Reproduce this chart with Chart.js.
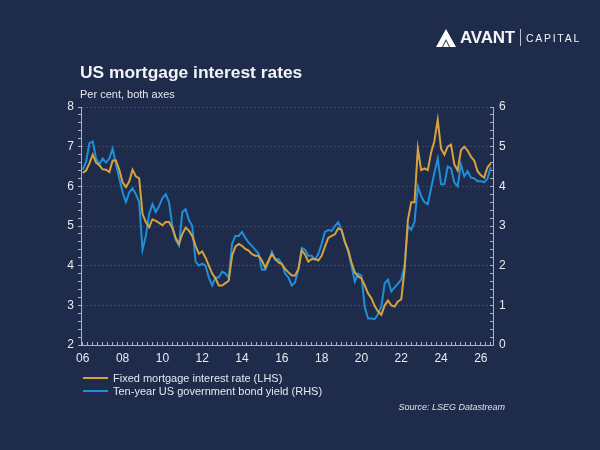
<!DOCTYPE html>
<html lang="en">
<head>
    <meta charset="UTF-8">
    <title>US mortgage interest rates</title>
    <script src="https://cdn.jsdelivr.net/npm/chart.js"></script>
    <style>
        body {
            margin: 0;
            background: #1e2b4a;
            font-family: "Liberation Sans", Arial, sans-serif;
            color: #f2f4f7;
        }
        #page {
            position: relative;
            width: 600px;
            height: 450px;
            overflow: hidden;
        }
        #chart-box {
            position: absolute;
            left: 0;
            top: 0;
            width: 600px;
            height: 450px;
        }
        canvas { display: block; }
        .abs { position: absolute; white-space: nowrap; }
        #logo { left: 436px; top: 28px; height: 19px; display: flex; align-items: center; }
        #logo .avant { font-size: 17px; font-weight: bold; letter-spacing: -0.2px; margin-left: 4px; }
        #logo .bar { width: 1px; height: 17px; background: #b8c0cf; margin: 0 5px 0 5px; }
        #logo .capital { font-size: 10.5px; letter-spacing: 1.7px; }
        #title { left: 80px; top: 64px; font-size: 17.4px; font-weight: bold; line-height: 17px; }
        #subtitle { left: 80px; top: 88px; font-size: 11px; line-height: 12px; color: #e4e8ef; }
        .legend-row { left: 83px; font-size: 11px; line-height: 12px; display: flex; align-items: center; color: #e4e8ef; }
        .legend-row .swatch { width: 25px; height: 2px; margin-right: 5px; }
        #source { right: 95px; top: 402px; font-size: 9px; font-style: italic; line-height: 10px; color: #dfe3ea; }
    </style>
</head>
<body>
<div id="page">
    <div id="chart-box"><canvas id="myChart" width="600" height="450"></canvas></div>

    <div id="logo" class="abs">
        <svg width="20" height="18" viewBox="0 0 20 18">
            <polygon points="10,0 20,18 14,18 10,10 6,18 0,18" fill="#ffffff"/>
            <polygon points="10,12 13,18 7,18" fill="#ffffff"/>
        </svg>
        <span class="avant">AVANT</span>
        <span class="bar"></span>
        <span class="capital">CAPITAL</span>
    </div>

    <div id="title" class="abs">US mortgage interest rates</div>
    <div id="subtitle" class="abs">Per cent, both axes</div>

    <div class="abs legend-row" style="top: 372px;">
        <span class="swatch" style="background:#d6a23e;"></span>Fixed mortgage interest rate (LHS)
    </div>
    <div class="abs legend-row" style="top: 385px;">
        <span class="swatch" style="background:#1f8fd8;"></span>Ten-year US government bond yield (RHS)
    </div>
    <div id="source" class="abs">Source: LSEG Datastream</div>
</div>

<script>
    const months = [
        '2006-01','2006-03','2006-05','2006-07','2006-09','2006-11',
        '2007-01','2007-03','2007-05','2007-07','2007-09','2007-11',
        '2008-01','2008-03','2008-05','2008-07','2008-09','2008-11',
        '2009-01','2009-03','2009-05','2009-07','2009-09','2009-11',
        '2010-01','2010-03','2010-05','2010-07','2010-09','2010-11',
        '2011-01','2011-03','2011-05','2011-07','2011-09','2011-11',
        '2012-01','2012-03','2012-05','2012-07','2012-09','2012-11',
        '2013-01','2013-03','2013-05','2013-07','2013-09','2013-11',
        '2014-01','2014-03','2014-05','2014-07','2014-09','2014-11',
        '2015-01','2015-03','2015-05','2015-07','2015-09','2015-11',
        '2016-01','2016-03','2016-05','2016-07','2016-09','2016-11',
        '2017-01','2017-03','2017-05','2017-07','2017-09','2017-11',
        '2018-01','2018-03','2018-05','2018-07','2018-09','2018-11',
        '2019-01','2019-03','2019-05','2019-07','2019-09','2019-11',
        '2020-01','2020-03','2020-05','2020-07','2020-09','2020-11',
        '2021-01','2021-03','2021-05','2021-07','2021-09','2021-11',
        '2022-01','2022-03','2022-05','2022-07','2022-09','2022-11',
        '2023-01','2023-03','2023-05','2023-07','2023-09','2023-11',
        '2024-01','2024-03','2024-05','2024-07','2024-09','2024-11',
        '2025-01','2025-03','2025-05','2025-07','2025-09','2025-11',
        '2026-01','2026-03','2026-05','2026-07'
    ];

    // Fixed mortgage interest rate, per cent (LHS)
    const mortgageRate = [
        6.34, 6.40, 6.58, 6.80, 6.60, 6.53,
        6.43, 6.42, 6.36, 6.65, 6.65, 6.42,
        6.10, 5.98, 6.12, 6.42, 6.25, 6.20,
        5.30, 5.10, 4.97, 5.17, 5.13, 5.08,
        5.02, 5.10, 5.10, 4.95, 4.70, 4.55,
        4.80, 4.96, 4.88, 4.75, 4.50, 4.30,
        4.36, 4.20, 4.00, 3.80, 3.68, 3.50,
        3.50, 3.56, 3.62, 4.25, 4.48, 4.55,
        4.50, 4.42, 4.38, 4.29, 4.25, 4.25,
        4.13, 3.95, 4.13, 4.29, 4.17, 4.08,
        4.04, 3.92, 3.83, 3.75, 3.75, 3.92,
        4.38, 4.28, 4.10, 4.17, 4.17, 4.13,
        4.25, 4.48, 4.70, 4.75, 4.79, 4.94,
        4.90, 4.60, 4.40, 4.08, 3.83, 3.73,
        3.68, 3.50, 3.30, 3.18, 2.98, 2.85,
        2.76, 3.00, 3.12, 3.00, 2.97, 3.10,
        3.15, 3.90, 5.15, 5.60, 5.60, 6.95,
        6.41, 6.45, 6.41, 6.85, 7.15, 7.68,
        6.95, 6.80, 7.00, 7.05, 6.55, 6.40,
        6.91, 7.00, 6.90, 6.75, 6.65, 6.38,
        6.28, 6.22, 6.48, 6.58
    ];

    // Ten-year US government bond yield, per cent (RHS)
    const bondYield = [
        4.42, 4.62, 5.09, 5.13, 4.70, 4.55,
        4.70, 4.60, 4.70, 4.95, 4.55, 4.20,
        3.85, 3.60, 3.85, 3.95, 3.80, 3.60,
        2.40, 2.75, 3.30, 3.55, 3.35, 3.50,
        3.70, 3.80, 3.60, 3.00, 2.65, 2.50,
        3.35, 3.42, 3.15, 3.00, 2.10, 2.00,
        2.05, 2.00, 1.70, 1.50, 1.70, 1.70,
        1.85, 1.80, 1.70, 2.55, 2.75, 2.75,
        2.85, 2.70, 2.58, 2.50, 2.40, 2.30,
        1.90, 1.90, 2.10, 2.35, 2.15, 2.17,
        2.05, 1.80, 1.70, 1.50, 1.58, 1.90,
        2.45, 2.40, 2.25, 2.25, 2.15, 2.30,
        2.55, 2.85, 2.90, 2.88, 3.00, 3.10,
        2.90, 2.60, 2.35, 2.00, 1.60, 1.80,
        1.75, 0.95, 0.67, 0.67, 0.65, 0.78,
        0.97, 1.55, 1.65, 1.35, 1.45, 1.55,
        1.65, 2.00, 3.00, 2.90, 3.10, 4.00,
        3.75, 3.60, 3.55, 3.95, 4.35, 4.70,
        4.05, 4.05, 4.50, 4.45, 4.10, 4.00,
        4.55, 4.25, 4.38, 4.22, 4.20, 4.13,
        4.13, 4.10, 4.20, 4.48
    ];

    // x-axis labels, one every second year
    const labelYears = [2006, 2008, 2010, 2012, 2014, 2016, 2018, 2020, 2022, 2024, 2026];
    const yearLabels = ['06', '08', '10', '12', '14', '16', '18', '20', '22', '24', '26'];

    const leftTicks = [2, 3, 4, 5, 6, 7, 8];
    const rightTicks = [0, 1, 2, 3, 4, 5, 6];

    const gold = '#d6a23e';
    const blue = '#1f8fd8';
    const axisColor = '#a9b1c2';
    const gridColor = 'rgba(160, 175, 200, 0.22)';
    const labelColor = '#e8ebf0';

    const toYear = s => {
        const [y, m] = s.split('-').map(Number);
        return y + (m - 1) / 12;
    };
    const xs = months.map(toYear);

    const isWhole = v => Math.abs(v - Math.round(v)) < 1e-6;

    // quarterly minor ticks on the time axis
    const xTickValues = [];
    for (let q = 0; q <= 82; q++) xTickValues.push(2006 + q / 4);

    const ctx = document.getElementById('myChart').getContext('2d');
    new Chart(ctx, {
        type: 'line',
        data: {
            datasets: [
                {
                    label: 'Fixed mortgage interest rate (LHS)',
                    data: xs.map((x, i) => ({ x: x, y: mortgageRate[i] })),
                    borderColor: gold,
                    borderWidth: 2,
                    pointRadius: 0,
                    tension: 0,
                    yAxisID: 'y'
                },
                {
                    label: 'Ten-year US government bond yield (RHS)',
                    data: xs.map((x, i) => ({ x: x, y: bondYield[i] })),
                    borderColor: blue,
                    borderWidth: 2,
                    pointRadius: 0,
                    tension: 0,
                    yAxisID: 'y1'
                }
            ]
        },
        options: {
            responsive: false,
            animation: false,
            devicePixelRatio: 1,
            layout: { padding: { left: 56, right: 82, top: 107, bottom: 85 } },
            plugins: {
                legend: { display: false },
                tooltip: { enabled: false }
            },
            scales: {
                x: {
                    type: 'linear',
                    min: 2005.91,
                    max: 2026.61,
                    afterBuildTicks: s => { s.ticks = xTickValues.map(v => ({ value: v })); },
                    afterFit: s => { s.height = 20; },
                    ticks: {
                        autoSkip: false,
                        maxRotation: 0,
                        color: labelColor,
                        font: { size: 12, family: 'Liberation Sans' },
                        padding: 9,
                        callback: v => {
                            const i = labelYears.findIndex(y => Math.abs(y - v) < 1e-6);
                            return i >= 0 ? yearLabels[i] : '';
                        }
                    },
                    grid: { drawOnChartArea: false, tickLength: -3, tickColor: axisColor },
                    border: { color: axisColor, width: 1 }
                },
                y: {
                    position: 'left',
                    min: 2,
                    max: 8,
                    afterFit: s => { s.width = 25; },
                    ticks: {
                        stepSize: 0.2,
                        autoSkip: false,
                        color: labelColor,
                        font: { size: 12, family: 'Liberation Sans' },
                        padding: 4,
                        callback: v => (isWhole(v) && leftTicks.includes(Math.round(v))) ? String(Math.round(v)) : ''
                    },
                    grid: {
                        tickLength: 3,
                        tickColor: axisColor,
                        color: c => (isWhole(c.tick.value) && c.tick.value > 2.5) ? gridColor : 'rgba(0,0,0,0)'
                    },
                    border: { color: axisColor, width: 1, dash: [2, 2] }
                },
                y1: {
                    position: 'right',
                    min: 0,
                    max: 6,
                    afterFit: s => { s.width = 25; },
                    ticks: {
                        stepSize: 0.2,
                        autoSkip: false,
                        color: labelColor,
                        font: { size: 12, family: 'Liberation Sans' },
                        padding: 9,
                        callback: v => (isWhole(v) && rightTicks.includes(Math.round(v))) ? String(Math.round(v)) : ''
                    },
                    grid: { drawOnChartArea: false, tickLength: -3, tickColor: axisColor },
                    border: { color: axisColor, width: 1 }
                }
            }
        }
    });
</script>
</body>
</html>
